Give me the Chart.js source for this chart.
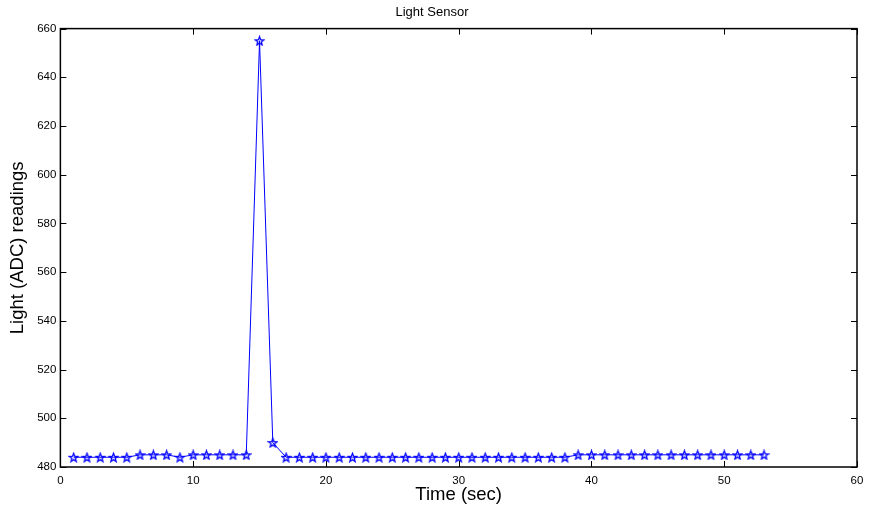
<!DOCTYPE html>
<html lang="en">
<head>
    <meta charset="UTF-8">
    <title>Light Sensor</title>
    <style>
        body { margin: 0; background: #fff; }
    </style>
</head>
<body>
    <script src="https://cdn.jsdelivr.net/npm/chart.js@4.4.0/dist/chart.umd.min.js"></script>
    <canvas id="chart1" width="873" height="510"></canvas>

    <script>
        // readings, one per second
        var times = [1, 2, 3, 4, 5, 6, 7, 8, 9, 10, 11, 12, 13, 14, 15, 16, 17, 18, 19, 20,
                     21, 22, 23, 24, 25, 26, 27, 28, 29, 30, 31, 32, 33, 34, 35, 36, 37, 38, 39, 40,
                     41, 42, 43, 44, 45, 46, 47, 48, 49, 50, 51, 52, 53];
        var readings = [484, 484, 484, 484, 484, 485, 485, 485, 484, 485, 485, 485, 485, 485, 655, 490, 484, 484, 484, 484,
                        484, 484, 484, 484, 484, 484, 484, 484, 484, 484, 484, 484, 484, 484, 484, 484, 484, 484, 485, 485,
                        485, 485, 485, 485, 485, 485, 485, 485, 485, 485, 485, 485, 485];
        var xTicks = [0, 10, 20, 30, 40, 50, 60];
        var yTicks = [480, 500, 520, 540, 560, 580, 600, 620, 640, 660];

        var lineColor = "#0000ff";
        var fontFamily = "'Liberation Sans', Arial, Helvetica, sans-serif";

        // pentagram marker, outlined
        function makeStar(size) {
            let c = document.createElement("canvas");
            c.width = size;
            c.height = size;
            let ctx = c.getContext("2d");
            let cx = size / 2, cy = size / 2 + 0.5;
            let outer = size / 2 - 1, inner = outer * 0.42;
            ctx.beginPath();
            for (let i = 0; i < 10; i++) {
                let r = (i % 2 == 0) ? outer : inner;
                let a = -Math.PI / 2 + i * Math.PI / 5;
                let px = cx + r * Math.cos(a);
                let py = cy + r * Math.sin(a);
                if (i == 0) ctx.moveTo(px, py); else ctx.lineTo(px, py);
            }
            ctx.closePath();
            ctx.strokeStyle = lineColor;
            ctx.lineWidth = 1.3;
            ctx.stroke();
            return c;
        }

        // MATLAB style box with inward ticks on every side
        var boxTicks = {
            id: "boxTicks",
            afterDraw(chart) {
                let ctx = chart.ctx;
                let area = chart.chartArea;
                let xs = chart.scales.x, ys = chart.scales.y;
                let len = 6;
                ctx.save();
                ctx.strokeStyle = "#000";
                ctx.lineWidth = 1;
                ctx.beginPath();
                xTicks.forEach((v) => {
                    let px = Math.round(xs.getPixelForValue(v)) + 0.5;
                    ctx.moveTo(px, area.bottom);
                    ctx.lineTo(px, area.bottom - len);
                    ctx.moveTo(px, area.top);
                    ctx.lineTo(px, area.top + len);
                });
                yTicks.forEach((v) => {
                    let py = Math.round(ys.getPixelForValue(v)) + 0.5;
                    ctx.moveTo(area.left, py);
                    ctx.lineTo(area.left + len, py);
                    ctx.moveTo(area.right, py);
                    ctx.lineTo(area.right - len, py);
                });
                ctx.stroke();
                ctx.lineWidth = 1.5;
                ctx.strokeRect(area.left, area.top, area.right - area.left, area.bottom - area.top);
                ctx.restore();
            }
        };

        var context1 = document.getElementById("chart1").getContext("2d");
        window.chart1 = new Chart(context1, {
            type: "line",
            data: {
                datasets: [{
                    label: "Light",
                    data: times.map((t, i) => ({ x: t, y: readings[i] })),
                    borderColor: lineColor,
                    backgroundColor: lineColor,
                    borderWidth: 1,
                    pointStyle: makeStar(11),
                    pointRadius: 5,
                    tension: 0,
                    fill: false
                }]
            },
            options: {
                responsive: false,
                animation: false,
                layout: {
                    padding: { left: 7, right: 16, top: 0, bottom: 4 }
                },
                plugins: {
                    legend: { display: false },
                    tooltip: { enabled: false },
                    title: {
                        display: true,
                        text: "Light Sensor",
                        color: "#000",
                        font: { family: fontFamily, size: 13, weight: "normal" },
                        padding: { top: 5, bottom: 8 }
                    }
                },
                scales: {
                    x: {
                        type: "linear",
                        min: 0,
                        max: 60,
                        afterBuildTicks: (scale) => { scale.ticks = xTicks.map((v) => ({ value: v })); },
                        grid: { display: false, drawTicks: false },
                        border: { display: false },
                        ticks: {
                            color: "#000",
                            padding: 7,
                            maxRotation: 0,
                            font: { family: fontFamily, size: 11.5 }
                        },
                        title: {
                            display: true,
                            text: "Time (sec)",
                            color: "#000",
                            font: { family: fontFamily, size: 18.5 },
                            padding: { top: -11, bottom: 0 }
                        }
                    },
                    y: {
                        min: 480,
                        max: 660,
                        afterBuildTicks: (scale) => { scale.ticks = yTicks.map((v) => ({ value: v })); },
                        grid: { display: false, drawTicks: false },
                        border: { display: false },
                        ticks: {
                            color: "#000",
                            padding: 4,
                            font: { family: fontFamily, size: 11.5 }
                        },
                        title: {
                            display: true,
                            text: "Light (ADC) readings",
                            color: "#000",
                            font: { family: fontFamily, size: 18.5 },
                            padding: { top: 0, bottom: 4 }
                        }
                    }
                }
            },
            plugins: [boxTicks]
        });
    </script>
</body>
</html>
